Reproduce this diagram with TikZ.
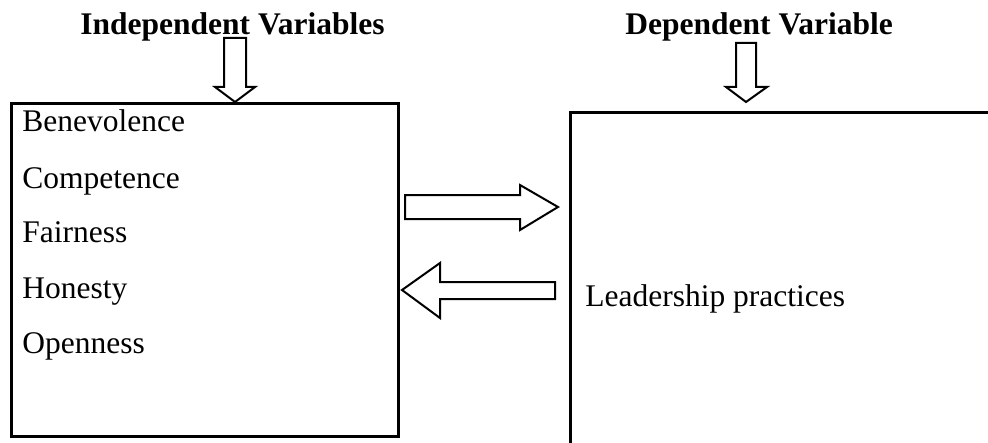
\documentclass[tikz,border=0pt]{standalone}
\usepackage{fontspec}
\setmainfont{Liberation Serif}
\begin{document}
\begin{tikzpicture}[x=0.5pt,y=-0.5pt,
  lbl/.style={anchor=base west,inner sep=0pt,font=\fontsize{15.75}{18}\selectfont},
  head/.style={lbl,font=\fontsize{15.75}{18}\selectfont\bfseries},
  boxframe/.style={draw,line width=1.5pt},
  blockarrow/.style={draw,line width=1pt,line join=miter,fill=white}]
\path[use as bounding box] (0,0) rectangle (988,443);
\clip (0,0) rectangle (988,443);
\fill[white] (0,0) rectangle (988,443);
% headings
\node[head] (hind) at (80,35) {Independent Variables};
\node[head] (hdep) at (625,35) {Dependent Variable};
% boxes
\node[boxframe,inner sep=0pt,minimum width=387pt*0.5,minimum height=333pt*0.5,anchor=north west] (lbox) at (10,102) {};
\node[boxframe,inner sep=0pt,minimum width=440pt*0.5,minimum height=360pt*0.5,anchor=north west] (rbox) at (569,111) {};
% left items
\node[lbl] (b) at (22,132) {Benevolence};
\node[lbl] (c) at (22,188) {Competence};
\node[lbl] (f) at (22,242) {Fairness};
\node[lbl] (h) at (22,298) {Honesty};
\node[lbl] (o) at (22,353) {Openness};
\node[lbl] (lp) at (585,306) {Leadership practices};
% down arrows
\draw[blockarrow] (224,38) -- (246,38) -- (246,87) -- (255,87) -- (235,102) -- (215,87) -- (224,87) -- cycle;
\draw[blockarrow] (736,43) -- (756,43) -- (756,87) -- (767,87) -- (746,102) -- (726,87) -- (736,87) -- cycle;
% right arrow
\draw[blockarrow] (405,195) -- (520,195) -- (520,185) -- (558,207) -- (520,230) -- (520,219) -- (405,219) -- cycle;
% left arrow
\draw[blockarrow] (555,282) -- (440,282) -- (440,263) -- (402,290) -- (440,318) -- (440,299) -- (555,299) -- cycle;
\end{tikzpicture}
\end{document}
